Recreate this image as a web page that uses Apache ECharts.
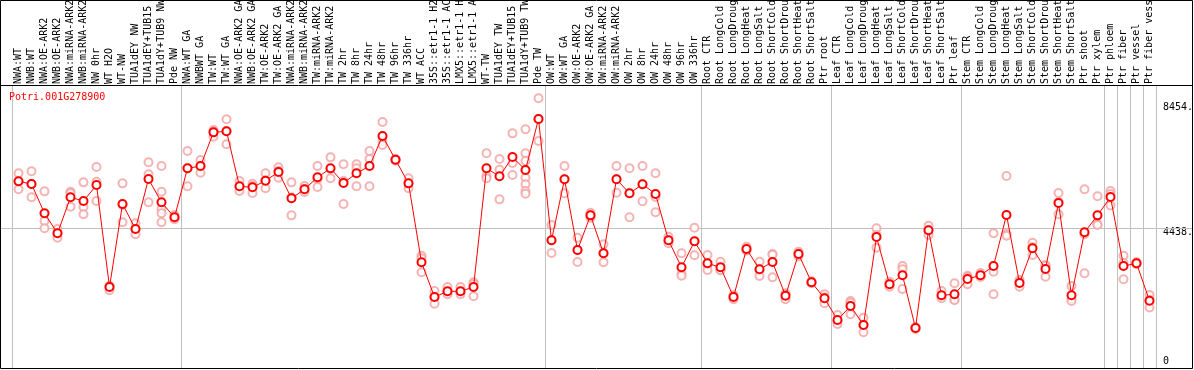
<!DOCTYPE html>
<html><head><meta charset="utf-8">
<script src="https://cdn.jsdelivr.net/npm/echarts@6/dist/echarts.min.js"></script>
<style>html,body{margin:0;padding:0;background:#fff}#c{width:1194px;height:370px}</style>
</head><body><div id="c"></div>
<script>
const geneId = 'Potri.001G278900';
const categories = [
 'NWA:WT','NWB:WT','NWA:OE-ARK2','NWB:OE-ARK2','NWA:miRNA-ARK2','NWB:miRNA-ARK2','NW 0hr','WT H2O','WT-NW','TUA1dEY NW','TUA1dEY+TUB15 NW','TUA1dY+TUB9 NW','Pde NW',
 'NWA:WT GA','NWBWT GA','TW:WT','TW:WT GA','NWA:OE-ARK2 GA','NWB:OE-ARK2 GA','TW:OE-ARK2','TW:OE-ARK2 GA','NWA:miRNA-ARK2 GA','NWB:miRNA-ARK2 GA','TW:miRNA-ARK2','TW:miRNA-ARK2 GA',
 'TW 2hr','TW 8hr','TW 24hr','TW 48hr','TW 96hr','TW 336hr','WT ACC','35S::etr1-1 H2O','35S::etr1-1 ACC','LMX5::etr1-1 H2O','LMX5::etr1-1 ACC','WT-TW','TUA1dEY TW','TUA1dEY+TUB15 TW','TUA1dY+TUB9 TW','Pde TW',
 'OW:WT','OW:WT GA','OW:OE-ARK2','OW:OE-ARK2 GA','OW:miRNA-ARK2','OW:miRNA-ARK2 GA','OW 2hr','OW 8hr','OW 24hr','OW 48hr','OW 96hr','OW 336hr',
 'Root CTR','Root LongCold','Root LongDrought','Root LongHeat','Root LongSalt','Root ShortCold','Root ShortDrought','Root ShortHeat','Root ShortSalt','Ptr root',
 'Leaf CTR','Leaf LongCold','Leaf LongDrought','Leaf LongHeat','Leaf LongSalt','Leaf ShortCold','Leaf ShortDrought','Leaf ShortHeat','Leaf ShortSalt','Ptr leaf',
 'Stem CTR','Stem LongCold','Stem LongDrought','Stem LongHeat','Stem LongSalt','Stem ShortCold','Stem ShortDrought','Stem ShortHeat','Stem ShortSalt','Ptr shoot','Ptr xylem',
 'Ptr phloem','Ptr fiber','Ptr vessel','Ptr fiber vessel'
];
// index of first category of each group (grey separators drawn before these)
const groupStarts = [0,13,41,53,63,73,84,85,86,87];
const meanValues = [
 5933,5846,4905,4262,5419,5300,5814,2537,5203,4400,6006,5258,4776,
 6350,6424,7506,7539,5772,5740,5952,6231,5387,5676,6061,6350,
 5878,6190,6424,7388,6626,5868,3331,2216,2399,2399,2537,6350,6093,6713,6296,7934,
 4037,5997,3726,4840,3620,5997,5547,5836,5525,4037,3170,4005,
 3299,3170,2216,3758,3106,3340,2258,3597,2688,2175,
 1478,1927,1317,4143,2624,2913,1221,4359,2271,2303,
 2794,2913,3212,4850,2666,3781,3116,5236,2271,4294,4840,
 5428,3212,3299,2097
];
const replicateValues = [
 [6190,5933,5676],[6254,5846,5419],[5611,4657,4423],[4400,4262,4121],[5599,5547,5117],[5900,5107,4873],[6392,5920,5300],[2579,2537,2431],[5868,5171,4616],[4584,4400,4230],[6543,6157,5258],[6424,5599,5043,4905,4616],[4850,4763,4712],
 [6906,6350,5772],[6617,6424,6209],[7580,7526,7365],[7924,7548,7121],[5942,5759,5621],[5856,5782,5557],[6190,5965,5708],[6382,6263,6048],[5900,5419,4840],[5782,5685,5589],[6424,6006,5749],[6703,6328,6029],
 [6479,5942,5203],[6479,6350,5772],[6906,6649,5772],[7837,7227,7099],[6660,6626,6596],[6029,5868,5708],[3543,3459,3010],[2409,2216,2001],[2537,2377,2303],[2537,2377,2303],[2688,2634,2239],[6832,6112,6029],[6649,6305,5354],[7474,6520,6135],[7603,6832,6585,6048,5836,5621,5534],[8599,7934,7227],
 [4529,4037,3630],[6424,5997,5547],[4121,3726,3340],[4924,4840,4763],[3909,3620,3331],[6424,5997,5566],[6350,5547,4776],[6424,5836,5290],[6190,5428,4937],[4153,4037,3941],[3620,2965,2900],[4442,4005,3556],
 [3565,3244,3084],[3350,3084,3074],[2281,2216,2142],[3832,3736,3703],[3350,3084,2891],[3597,3574,2849],[2335,2303,2142],[3671,3597,3524],[2720,2688,2656],[2303,2207,2014],
 [1638,1445,1349],[2088,2033,1661],[1551,1317,1082],[4423,4208,3800],[2708,2624,2547],[3212,3106,2473],[1253,1221,1188],[4506,4359,4208],[2409,2239,2175],[2656,2130,2120],
 [2900,2859,2624],[2987,2891,2859],[4262,3029,2303],[6103,4240,4185],[2762,2688,2547],[3960,3813,3565],[3244,3222,2868],[5557,5268,4873],[2570,2152,2088],[5676,4230,2977],[5451,4551,4529],
 [5621,5525,5155],[3543,3308,2785],[3340,3292,3276],[2281,2120,1879]
];
const yTickLabels = [4438, 8454];
const yZeroLabel = [0];
const refLineValue = 4438;

const FONT = 'DejaVu Sans Mono';
const GREY = '#c0c0c0';
const repData = [];
replicateValues.forEach((arr, i) => arr.forEach(v => repData.push([i, v])));
const isGroupStart = (idx) => groupStarts.indexOf(idx) >= 0;

const chart = echarts.init(document.getElementById('c'), null, {renderer: 'canvas'});
const yBase = {
  type: 'value', position: 'right', min: -96, max: 9027,
  axisLine: {show: false}, axisTick: {show: false}, splitLine: {show: false}
};
chart.setOption({
  animation: false,
  backgroundColor: '#fff',
  title: {text: geneId, left: 9, top: 92, padding: 0,
    textStyle: {color: '#ff0000', fontFamily: FONT, fontSize: 10, fontWeight: 'normal'}},
  grid: {left: 12, right: 38, top: 85, bottom: 1, outerBoundsMode: 'none', containLabel: false},
  xAxis: {
    type: 'category', position: 'top', data: categories, boundaryGap: true,
    axisLine: {show: false},
    axisTick: {show: true, inside: false, length: 85, interval: (i) => isGroupStart(i), lineStyle: {color: GREY, width: 1}},
    splitLine: {show: true, interval: (i) => isGroupStart(i), lineStyle: {color: GREY, width: 1}},
    axisLabel: {interval: 0, rotate: 90, margin: 1, color: '#000', fontFamily: FONT, fontSize: 10}
  },
  yAxis: [
    Object.assign({}, yBase, {axisLabel: {customValues: yTickLabels, margin: 7, verticalAlign: 'top', color: '#000', fontFamily: FONT, fontSize: 10, formatter: v => v + '.'}}),
    Object.assign({}, yBase, {axisLabel: {customValues: yZeroLabel, margin: 7, verticalAlign: 'bottom', color: '#000', fontFamily: FONT, fontSize: 10, formatter: v => String(v)}})
  ],
  series: [
    {type: 'scatter', data: repData, symbol: 'emptyCircle', symbolSize: 8, z: 2,
     itemStyle: {color: '#f2a0a0', borderColor: '#f2a0a0', borderWidth: 1.2}},
    {type: 'line', data: meanValues, symbol: 'emptyCircle', symbolSize: 8, z: 3,
     lineStyle: {color: '#ff0000', width: 1},
     itemStyle: {color: '#ff0000', borderColor: '#ff0000', borderWidth: 1.5}}
  ]
});
const yRef = Math.round(chart.convertToPixel({yAxisIndex: 0}, refLineValue)) + 0.5;
chart.setOption({
  graphic: [
    {type: 'line', z: 1, silent: true, shape: {x1: 0, y1: yRef, x2: 1193, y2: yRef}, style: {stroke: GREY, lineWidth: 1}},
    {type: 'line', z: 10, silent: true, shape: {x1: 0, y1: 85.5, x2: 1193, y2: 85.5}, style: {stroke: '#000', lineWidth: 1}},
    {type: 'rect', z: 10, silent: true, shape: {x: 0.5, y: 0.5, width: 1192, height: 368}, style: {fill: 'none', stroke: '#000', lineWidth: 1}}
  ]
});
</script>
</body></html>
